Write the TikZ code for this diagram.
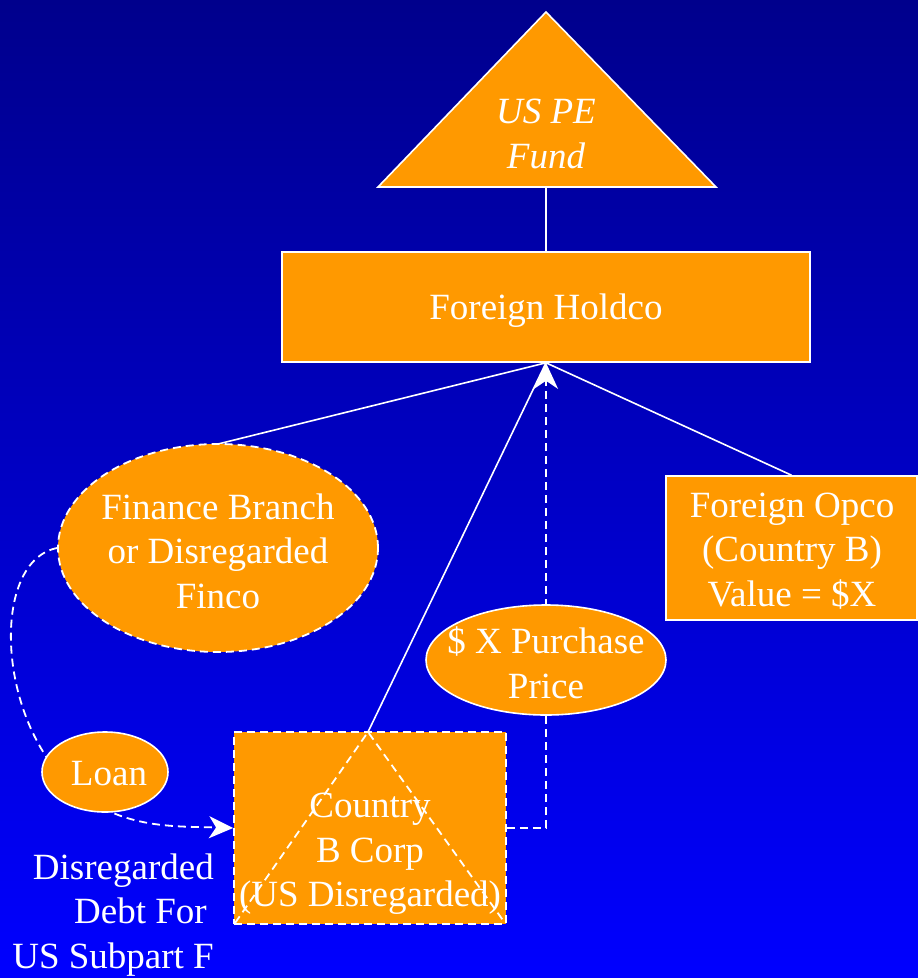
\documentclass[tikz,border=0pt]{standalone}
\usepackage{fontspec}
\setmainfont{Liberation Serif}
\usetikzlibrary{shapes.geometric,arrows.meta,calc}
\definecolor{navytop}{RGB}{0,0,140}
\definecolor{bluebot}{RGB}{0,0,255}
\definecolor{entity}{RGB}{255,153,0}
\begin{document}
\begin{tikzpicture}[x=1pt,y=-1pt,
  every node/.style={font=\fontsize{37}{44.5}\selectfont, text=white, align=center, inner sep=0pt},
  link/.style={draw=white, line width=1.6pt},
  dlink/.style={draw=white, line width=1.8pt, dash pattern=on 8pt off 5pt},
  box/.style={rectangle, fill=entity, draw=white, line width=1.6pt},
  dbox/.style={rectangle, fill=entity, draw=white, line width=1.8pt, dash pattern=on 8pt off 5pt},
  oval/.style={ellipse, fill=entity, draw=white, line width=1.6pt},
  doval/.style={ellipse, fill=entity, draw=white, line width=1.8pt, dash pattern=on 8pt off 5pt},
  tip/.style={-{Stealth[length=26pt,width=24pt,inset=8pt]}}
]
% background
\shade[top color=navytop, bottom color=bluebot] (0,0) rectangle (918,978);
\useasboundingbox (0,0) rectangle (918,978);

% entity shapes
\node[box, minimum width=528pt, minimum height=110pt] (holdco) at (546,307) {};
\node[box, minimum width=251pt, minimum height=144pt] (opco) at (791.5,548) {};
\coordinate (fundbase) at (546,187);
\coordinate (cbapex) at (368,732);

% ownership lines
\draw[link] (fundbase) -- (holdco.north);
\draw[link] (holdco.south) -- (218,444);
\draw[link] (holdco.south) -- (cbapex);
\draw[link] (holdco.south) -- (opco.north);

% fund triangle
\filldraw[fill=entity, draw=white, line width=1.6pt, line join=miter] (546,12) -- (716,187) -- (378,187) -- cycle;

% Country B corp (disregarded)
\node[dbox, minimum width=272pt, minimum height=192pt] (cbc) at (370,828) {};
\draw[dlink] ($(cbc.south west)+(2,-2)$) -- (cbapex) -- ($(cbc.south east)+(-2,-2)$);

% purchase price flow
\draw[dlink, tip] (cbc.east) -| (holdco.south);

% finance branch
\node[doval, minimum width=320pt, minimum height=208pt] (fin) at (218,548) {};

% loan flow
\draw[dlink, -{Stealth[length=24pt,width=22pt,inset=7pt]}] (fin.west) .. controls (-5,560) and (-5,700) .. (60,775) .. controls (110,830) and (170,826) .. (cbc.west);
\node[oval, minimum width=126pt, minimum height=80pt] (loan) at (105,772) {};
\node[oval, minimum width=240pt, minimum height=110pt] (price) at (546,660) {};

% labels
\node[font=\fontsize{37}{44.5}\selectfont\itshape] (fundtext) at (546,134) {US PE\\Fund};
\node (holdcotext) at (546,311) {Foreign Holdco};
\node (opcotext) at (792,551) {Foreign Opco\\(Country B)\\Value = \$X};
\node (fintext) at (218,551) {Finance Branch\\or Disregarded\\Finco};
\node (loantext) at (109,774) {Loan};
\node (pricetext) at (546,663) {\$ X Purchase\\Price};
\node (cbctext) at (370,854) {Country\\B Corp\\(US Disregarded)};
\node[align=right, anchor=east] (debt) at (214,915) {Disregarded\\Debt For\rule{7pt}{0pt}\\US Subpart F};
\end{tikzpicture}
\end{document}
